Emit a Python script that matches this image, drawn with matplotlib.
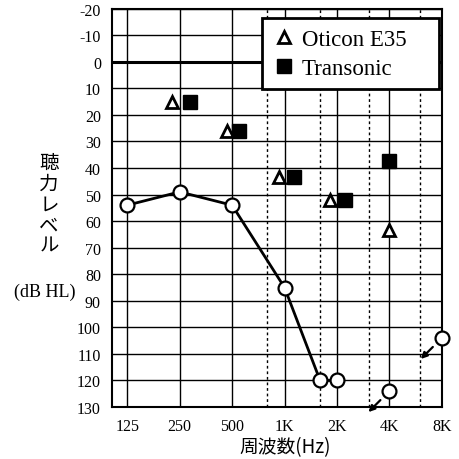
"""
オージオグラム: 裸耳閾値と補聴器装用閾値
"""

import matplotlib.pyplot as plt
import numpy as np

plt.rcParams["axes.unicode_minus"] = False

# 裸耳閾値 (○, 線で結ぶ)
unaided_freq = [125, 250, 500, 1000, 1600, 2000]
unaided_db = [54, 49, 54, 85, 120, 120]
# スケールアウト (↙ 付き)
noresp_freq = [4000, 8000]
noresp_db = [124, 104]

# 装用閾値
oticon_freq = [225, 467, 925, 1830, 4000]
oticon_db = [15, 26, 43.5, 52, 63.5]
transonic_freq = [285, 547, 1140, 2220, 4000]
transonic_db = [15, 26, 43.5, 52, 37.5]

freq_ticks = [125, 250, 500, 1000, 2000, 4000, 8000]
freq_labels = ["125", "250", "500", "1K", "2K", "4K", "8K"]
half_oct = [790, 1600, 3050, 6000]
db_ticks = list(range(-20, 131, 10))

serif = ["Liberation Serif", "DejaVu Serif"]
jp = ["Noto Sans CJK JP", "DejaVu Sans"]

fig = plt.figure(figsize=(4.6, 4.6), dpi=100)
ax = fig.add_axes([0.2435, 0.113, 0.717, 0.866])
ax.set_xscale("log", base=2)
ax.set_xlim(125 * 2 ** -0.29, 8000)
ax.set_ylim(130, -20)

for d in db_ticks:
    ax.axhline(d, color="black", lw=2.2 if d == 0 else 1.0, zorder=1)
for f in freq_ticks:
    ax.axvline(f, color="black", lw=1.0, zorder=1)
for f in half_oct:
    ax.axvline(f, color="black", lw=1.0, ls=(0, (2, 2)), zorder=1)

ax.set_xticks(freq_ticks)
ax.set_xticklabels(freq_labels)
ax.set_yticks(db_ticks)
ax.minorticks_off()
ax.tick_params(length=0, pad=8, labelsize=11.5)
for lab in ax.get_xticklabels() + ax.get_yticklabels():
    lab.set_family(serif)
for s in ax.spines.values():
    s.set_linewidth(1.5)

ax.plot(unaided_freq, unaided_db, color="black", lw=2, marker="o", ms=10,
        mfc="white", mec="black", mew=1.6, zorder=4)
ax.plot(noresp_freq, noresp_db, ls="none", marker="o", ms=10,
        mfc="white", mec="black", mew=1.6, zorder=6, clip_on=False)

ax.plot(oticon_freq, oticon_db, ls="none", marker="^", ms=8, mfc="white",
        mec="black", mew=2, zorder=5, label="Oticon E35")
ax.plot(transonic_freq, transonic_db, ls="none", marker="s", ms=9.5,
        mfc="black", mec="black", zorder=5, label="Transonic")

# スケールアウトの矢印 (円の左下)
for f, d in zip(noresp_freq, noresp_db):
    x0, y0 = ax.transData.transform((f, d))
    start = ax.transData.inverted().transform((x0 - 9, y0 - 9))
    end = ax.transData.inverted().transform((x0 - 21, y0 - 21))
    ax.annotate("", xy=end, xytext=start,
                arrowprops=dict(arrowstyle="-|>", color="black", lw=1.6,
                                mutation_scale=9, shrinkA=0, shrinkB=0),
                annotation_clip=False, zorder=3)

leg = ax.legend(loc="upper left", bbox_to_anchor=(0.4545, 0.976, 0.536, 0.0),
                mode="expand", frameon=True,
                fancybox=False, edgecolor="black", framealpha=1,
                prop={"family": serif, "size": 16.5}, handletextpad=0.3,
                handlelength=1.0, borderpad=0.45, labelspacing=0.35,
                borderaxespad=0)
leg.get_frame().set_linewidth(2)

fig.text(49 / 460, 1 - 205 / 460, "聴\n力\nレ\nベ\nル", family=jp, fontsize=14,
         ha="center", va="center", linespacing=0.98)
fig.text(45 / 460, 1 - 292 / 460, "(dB HL)", family=serif, fontsize=13,
         ha="center", va="center")
fig.text(285 / 460, 1 - 448 / 460, "周波数(Hz)", family=jp + serif, fontsize=13.5,
         ha="center", va="center")

fig.savefig("out.png", dpi=100)
plt.close()
